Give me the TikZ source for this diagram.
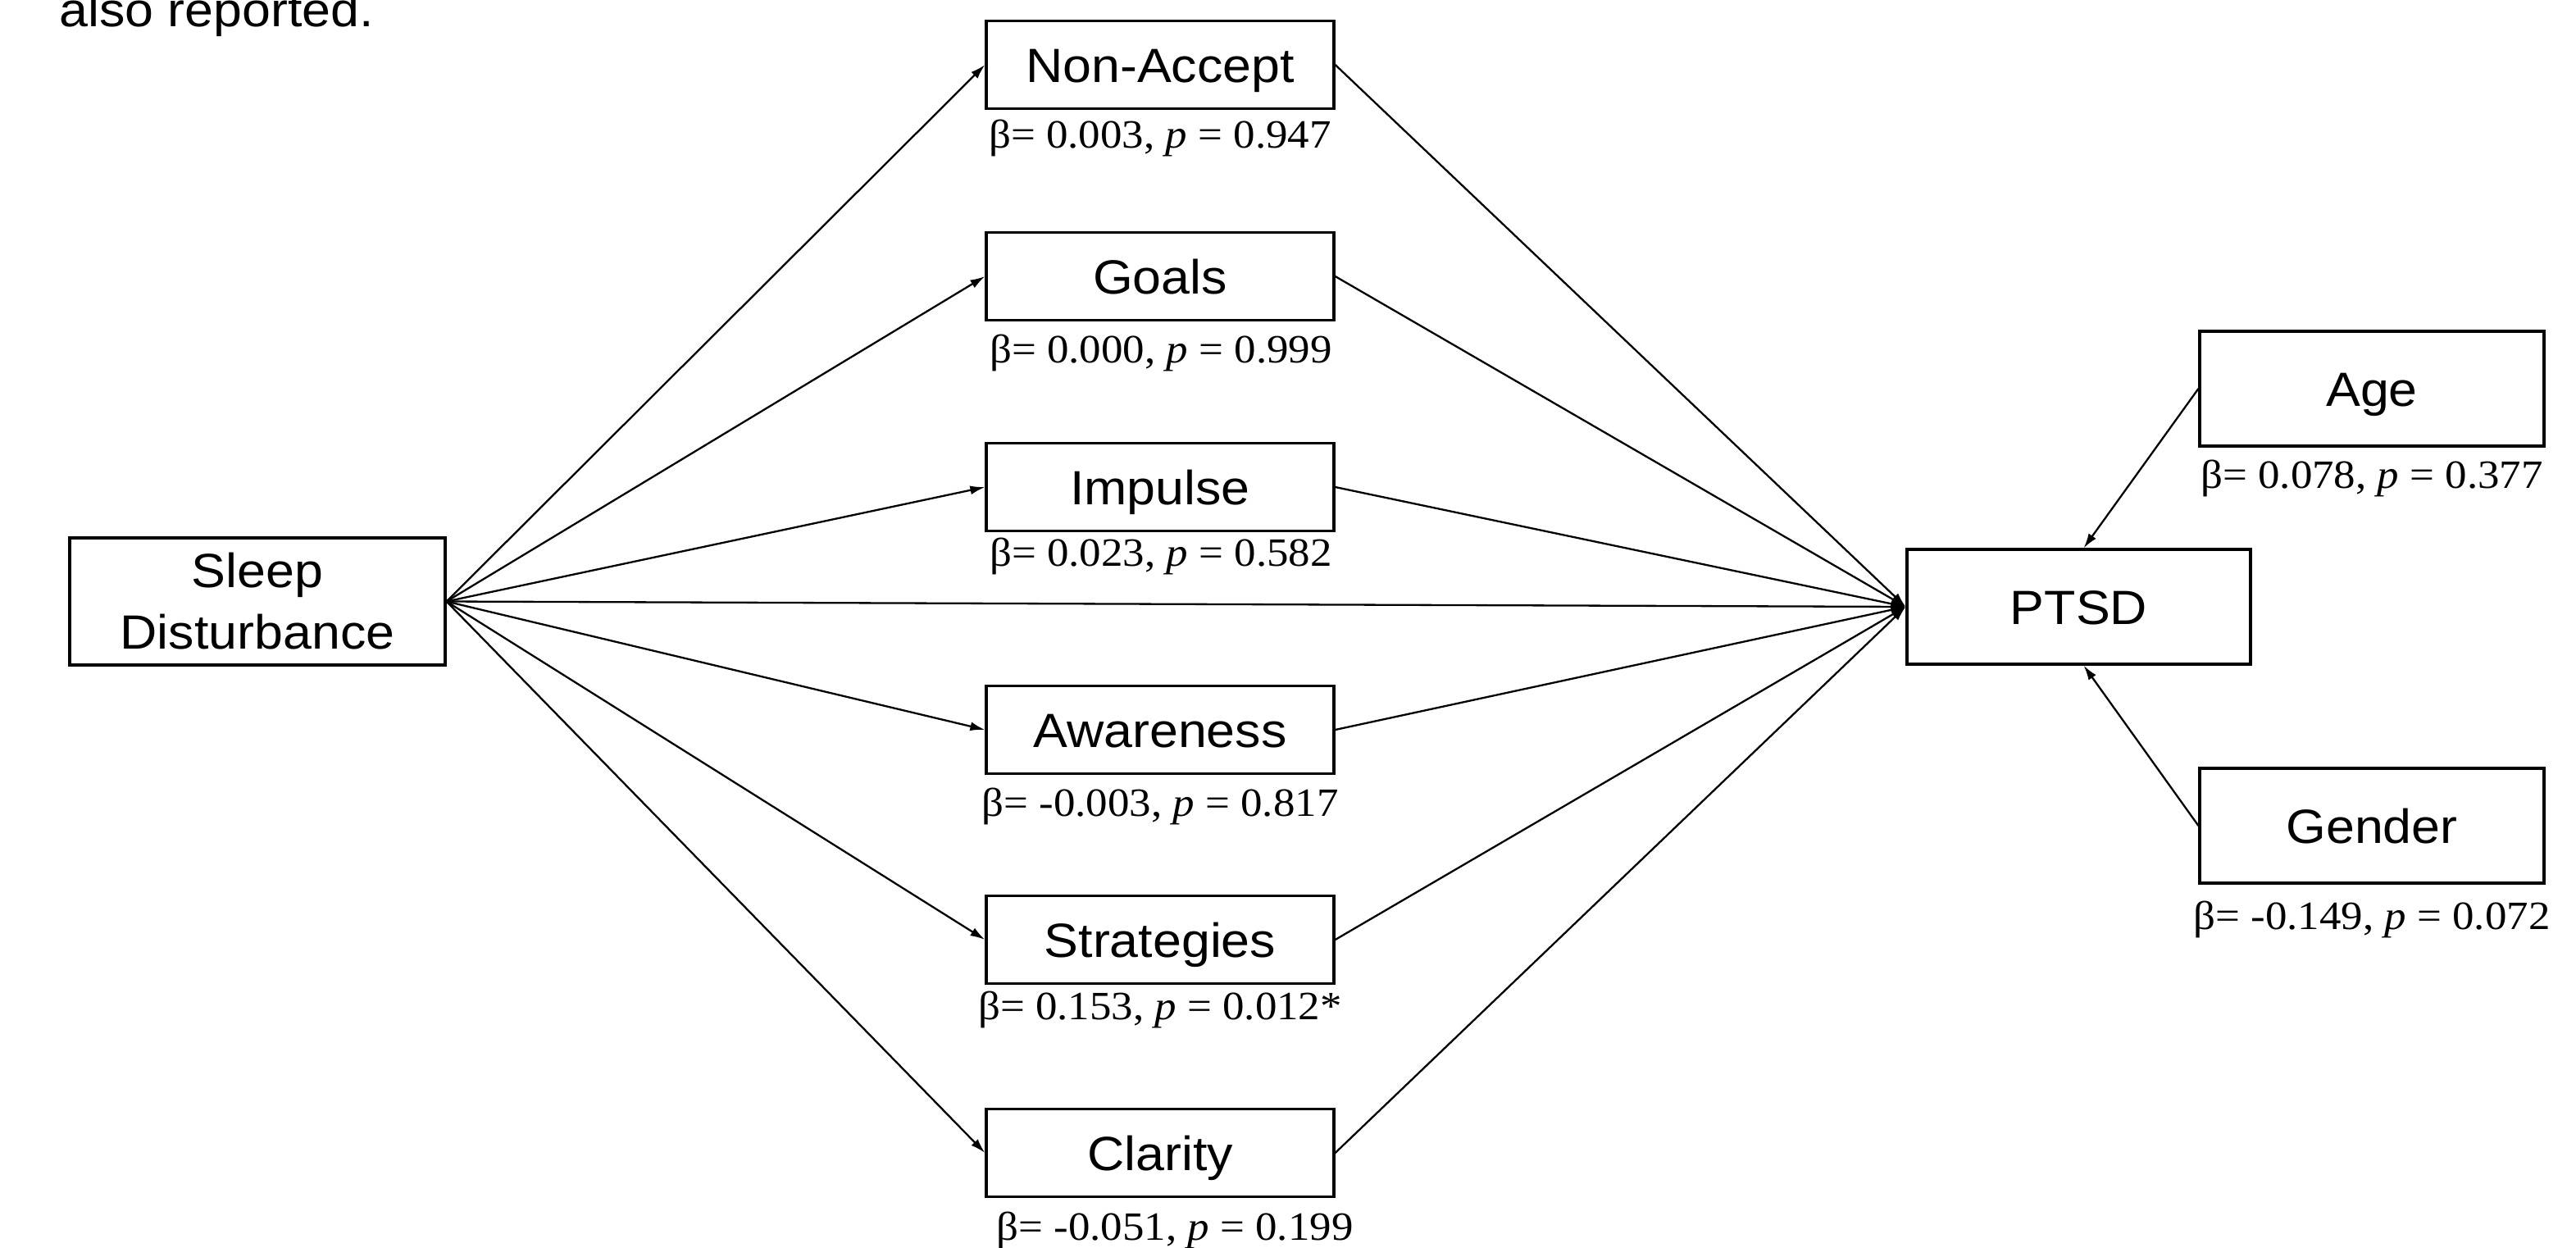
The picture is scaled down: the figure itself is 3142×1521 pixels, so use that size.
\documentclass[tikz,border=0pt]{standalone}
\usepackage{fontspec}
\newfontfamily\sansf{Liberation Sans}[FakeStretch=1.07]
\newfontfamily\seriff{Liberation Serif}[FakeStretch=1.08]
\usetikzlibrary{arrows.meta}
\begin{document}
\begin{tikzpicture}[x=0.5pt,y=-0.5pt,
  boxbase/.style={draw=black, line width=1.6pt, fill=white, inner sep=0pt,
    font=\sansf\fontsize{29.3}{37.5}\selectfont},
  capbox/.style={boxbase, text height=21pt, text depth=0pt},
  midbox/.style={capbox, minimum width=212pt, minimum height=53.5pt},
  sidebox/.style={capbox, minimum width=210pt, minimum height=70pt},
  coef/.style={anchor=base, inner sep=0pt, font=\seriff\fontsize{24.5}{28}\selectfont},
  conn/.style={draw=black, line width=1.15pt, -{Latex[length=9pt,width=5.5pt]}},
]
\useasboundingbox (0,0) rectangle (3142,1521);
\fill[white] (0,0) rectangle (3142,1521);

\node[anchor=base west, inner sep=0pt, font=\sansf\fontsize{29.3}{37.5}\selectfont] (note) at (72,32) {also reported.};

% boxes
\node[boxbase, align=center, minimum width=229pt, minimum height=77.5pt] (sleep) at (314,733.5) {Sleep\\Disturbance};
\node[midbox] (na) at (1415,79) {Non-Accept};
\node[midbox] (goals) at (1415,337) {Goals};
\node[midbox] (impulse) at (1415,594) {Impulse};
\node[midbox] (aware) at (1415,890) {Awareness};
\node[midbox] (strat) at (1415,1146) {Strategies};
\node[midbox] (clar) at (1415,1406) {Clarity};
\node[sidebox, minimum width=209.5pt] (ptsd) at (2535.5,740) {PTSD};
\node[sidebox] (age) at (2893,474) {Age};
\node[sidebox] (gender) at (2893,1007) {Gender};

% coefficients
\node[coef] (naL) at (1415,180) {β= 0.003, \textit{p} = 0.947};
\node[coef] (goalsL) at (1416,442) {β= 0.000, \textit{p} = 0.999};
\node[coef] (impulseL) at (1416,690) {β= 0.023, \textit{p} = 0.582};
\node[coef] (awareL) at (1415,995) {β= -0.003, \textit{p} = 0.817};
\node[coef] (stratL) at (1415,1243) {β= 0.153, \textit{p} = 0.012*};
\node[coef] (clarL) at (1433,1512) {β= -0.051, \textit{p} = 0.199};
\node[coef] (ageL) at (2893,595) {β= 0.078, \textit{p} = 0.377};
\node[coef] (genderL) at (2893,1133) {β= -0.149, \textit{p} = 0.072};

% connectors
\foreach \m in {na,goals,impulse,aware,strat,clar}{
  \draw[conn] (sleep.east) -- (\m.west);
  \draw[conn] (\m.east) -- (ptsd.west);
}
\draw[conn] (sleep.east) -- (ptsd.west);
\draw[conn] (age.west) -- ([xshift=3pt]ptsd.north);
\draw[conn] (gender.west) -- ([xshift=3pt]ptsd.south);
\end{tikzpicture}
\end{document}
